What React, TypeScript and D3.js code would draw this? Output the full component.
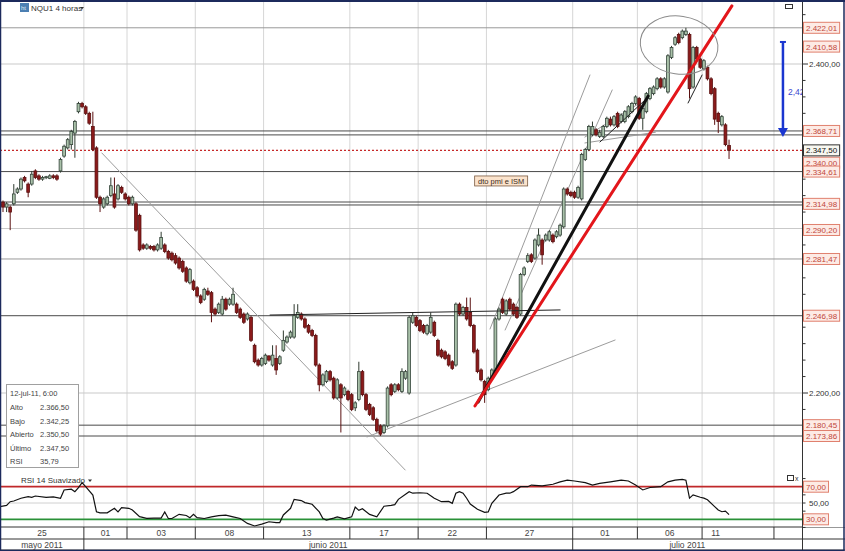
import React from "react";
import * as d3 from "d3";

// ---------- DATA ----------
// 4-hour candles NQU1: [open, high, low, close]
const candles: number[][] = [
  [2316,2317,2310,2313],[2313,2316,2310,2315],[2313,2314,2299,2310],[2315,2327,2314,2321],
  [2322,2325,2321,2324],[2324,2331,2323,2330],[2331,2332,2328,2329],[2327,2328,2319,2322],
  [2327,2335,2326,2333],[2335,2336,2330,2331],[2332,2333,2329,2330],[2330,2332,2329,2331],
  [2331,2332,2330,2331.5],[2330.5,2333,2330,2332],[2332,2333,2330,2331],[2332,2333,2329,2330],
  [2335,2343,2334,2342],[2344,2351,2343,2350],[2349,2355,2348,2354],[2351,2360,2348,2359],
  [2358,2366,2343,2365],[2371,2377,2370,2376],[2376,2377,2373,2374],[2374,2375,2369,2370],
  [2370,2371,2363,2364],[2362,2371,2347,2348],[2349,2350,2318,2319],[2319,2320,2310,2315],
  [2313,2319,2312,2318],[2315,2320,2314,2319],[2320,2331,2319,2326],[2321,2331,2312,2313],
  [2318,2327,2317,2326],[2325,2326,2321,2322],[2321,2322,2317,2318],[2319,2320,2314,2315],
  [2315,2320,2314,2319],[2315,2316,2298,2299],[2308,2309,2286,2287],[2290,2291,2287,2288],
  [2288,2291,2287,2290],[2289,2290,2287,2288],[2289,2290,2286,2287],[2287,2291,2286,2290],
  [2288,2298,2287,2294.5],[2290,2291,2285,2286],[2286,2287,2281,2282],[2285,2286,2280,2281],
  [2283.5,2285,2278,2279],[2282,2283,2275,2276],[2280,2281,2273,2274],[2276,2277,2267,2268],
  [2267,2276,2266,2275],[2268,2269,2262,2263],[2264,2265,2258,2259],[2259,2260,2254,2255],
  [2257,2264,2256,2263],[2262,2264,2259,2260],[2261,2262,2243,2249],[2251,2252,2247,2248],
  [2249,2255,2248,2254],[2248,2259,2247,2257],[2257,2258,2250,2251],[2254,2258,2253,2257],
  [2254,2264,2253,2260],[2254,2255,2248,2249],[2251,2252,2245,2246],[2248,2249,2242,2243],
  [2245,2249,2244,2248],[2246,2247,2231,2232],[2229,2230,2218,2219],[2220,2221,2216,2217],
  [2217,2222,2216,2221],[2218,2224,2217,2223],[2222.5,2223,2219,2220],[2217,2229,2216,2223],
  [2221,2229,2211,2214],[2218,2223,2217,2222],[2226,2238,2225,2232],[2231,2235,2230,2234],
  [2234,2238,2233,2237],[2234,2254,2233,2247],[2246,2254,2245,2249],[2248,2249,2244,2245],
  [2245,2246,2239,2240],[2241,2242,2236,2237],[2238,2239,2234,2235],[2235,2236,2216,2217],
  [2217,2218,2201,2205],[2205,2212,2204,2211],[2207,2214,2206,2213],[2213,2214,2207,2208],
  [2209,2210,2196,2197],[2197,2209,2196,2208],[2205,2206,2176,2197],[2199,2204,2198,2203],
  [2201,2202,2195,2196],[2199,2200,2189,2190],[2191,2195,2189,2194],[2196,2219,2195,2213],
  [2213,2214,2198,2199],[2199,2200,2189,2190],[2193,2194,2186,2187],[2191,2192,2183,2184],
  [2184,2185,2176,2177],[2180,2181,2173.86,2175],[2176,2181,2175,2180],[2180,2204,2179,2203],
  [2205,2206,2198,2199],[2201,2206,2200,2205],[2205,2206,2201,2202],[2201,2215,2200,2213],
  [2209,2214,2208,2213],[2200,2247,2199,2246],[2243,2249,2242,2247],[2246,2247,2240,2241],
  [2244,2245,2237,2238],[2241,2242,2236,2237],[2236,2242,2235,2241],[2237,2249,2236,2246],
  [2243,2244,2234,2235],[2232,2233,2222,2223],[2226,2227,2221,2222],[2225,2226,2220,2221],
  [2223,2224,2216,2217],[2219,2220,2214,2215],[2217,2255,2216,2254],[2254,2255,2247,2248],
  [2248,2253,2247,2252],[2252,2258,2244,2245],[2249,2258,2240,2241],[2241,2242,2224,2225],
  [2226,2227,2212,2213],[2214,2215,2207,2208],[2207,2208,2194,2199],[2202,2210,2201,2209],
  [2209,2215,2208,2214],[2213,2246,2212,2245],[2245,2252,2244,2251],[2257,2258,2248,2249],
  [2248,2257,2247,2256],[2257,2258,2250,2251],[2254,2255,2247,2248],[2252,2253,2245,2246],
  [2248,2273,2247,2272],[2272,2277,2271,2276],[2280,2285,2279,2283.5],[2284,2285,2279,2280],
  [2282,2294,2281,2293],[2290,2300,2289,2296],[2293,2294,2278,2284],[2293,2297,2292,2296],
  [2293,2299,2292,2298],[2296,2297,2291,2292],[2295,2299,2294,2298],[2296,2303,2295,2302],
  [2301,2325,2300,2324],[2324,2325,2320,2321],[2322,2323,2319,2320],[2322,2323,2318,2319],
  [2319,2326,2318,2325],[2318,2346,2317,2345],[2342,2349,2341,2348],[2348,2363,2347,2362],
  [2357,2365,2356,2362],[2360,2361,2356,2357],[2356,2360,2355,2358.5],[2356,2363,2355,2362],
  [2362,2368,2361,2367],[2366.5,2368,2362,2363],[2363,2369,2362,2368],[2370,2371,2361,2362],
  [2365,2370,2364,2369],[2365,2372,2364,2371],[2368,2375,2367,2374],[2371,2377,2370,2376],
  [2376,2381,2375,2380],[2379,2380,2366,2367],[2367,2374,2360,2373],[2371,2383,2370,2382],
  [2379,2386,2378,2385],[2382,2387,2381,2386],[2385,2392,2384,2391],[2391,2392,2385,2386],
  [2386,2392,2385,2391],[2383,2406,2382,2405],[2404,2411,2403,2410],[2412,2417,2411,2416],
  [2418,2419,2412,2413],[2416,2421,2415,2420],[2418,2422.01,2417,2420],[2418,2419,2379,2385],
  [2386,2411,2385,2410],[2410,2411,2402,2403],[2403,2404,2397,2398],[2397,2403,2396,2402],
  [2398,2399,2390,2391],[2391,2392,2381,2382],[2385,2386,2363,2366.5],[2370,2371,2358,2365],
  [2363,2369,2362,2368],[2363,2364,2350,2351],[2350.5,2354,2342.25,2347.5],
];

// RSI 14 smoothed, read at bar positions
const rsiBars = [-1,1,2,3,5,7,8,9,12,14,16,17,19,20,21,22,23,25,26,27,29,31,32,33,35,36,38,40,42,44,45,46,47,49,51,52,53,54,56,58,60,62,64,66,68,70,72,74,76,77,78,80,81,83,84,86,88,89,90,92,93,95,97,98,99,100,102,104,106,108,109,110,113,114,116,118,120,122,124,125,126,127,128,129,130,132,134,135,136,138,140,141,142,144,146,147,150,153,155,157,159,162,164,166,169,172,174,176,178,180,183,185,187,189,190,191,192,194,195,196,198,199,200,201,202];
const rsiValues = [45.5,47,51.6,52.5,55.8,57.7,57,58.6,57,57.5,55.8,66,67,63.9,68.8,75,70,59.8,39.3,38,38,43.5,39,44.3,43.5,41.4,33.2,31.2,31.5,31.5,39,31,31,36.1,34.7,32,36,32,31,33,34.5,35,33,31,25,21.8,24,27,26,26,35.3,43.5,54.5,53,50.5,48.5,39,31,29,31.5,33,30.5,33,45,41,43,36,33,46,47,48,54.5,63.9,62,62.6,62,55.8,51.6,52,49.6,62,63.9,62,55.8,48.8,42.3,38.6,39,49.6,59.8,62,62,63.9,70,70,72,71,73,76,78,77,75,72,74,76,78,77,72,66,69,70,76,78,79,78,56,60,57,56,54,45.5,41.4,39.3,40,35.79];

// horizontal levels
const gridPrices = [2400, 2300, 2200];
const axisPrices = [2400, 2200];
const axisPriceLabels = ["2.400,00", "2.200,00"];
const darkLevels = [2359.3, 2356.9, 2334.61, 2316.1, 2314.3, 2246.98, 2180.45, 2173.86];
const lightLevels = [2422.01, 2281.47];
const lastPrice = 2347.5;
const lastPriceLabel = "2.347,50";
const tagTexts = ["2.422,01","2.410,58","2.368,71","2.340,00","2.334,61","2.314,98","2.290,20","2.281,47","2.246,98","2.180,45","2.173,86"];
const tagPrices = [2422.01, 2410.58, 2359.3, 2340.0, 2334.61, 2314.98, 2299.1, 2281.47, 2246.98, 2180.45, 2173.86];

// RSI guides
const rsiGuides = [70, 30];
const rsiGuideLabels = ["70,00", "30,00"];
const rsiMid = 50;
const rsiMidLabel = "50,00";

// time axis (bar-index boundaries of each session label)
const dayBounds = [22.5, 34.5, 53.5, 72.5, 96.5, 115.5, 134.5, 158.5, 176.5, 194.5, 214.5];
const dayLabels = ["25", "01", "03", "08", "13", "17", "22", "27", "01", "06", "11"];
const monthBounds = [22.5, 158.5];
const monthLabels = ["mayo 2011", "junio 2011", "julio 2011"];

// drawn annotations: [barA, priceA, barB, priceB]
const thinGrayLines = [
  [27.5, 2345.9, 111.9, 2153.2],
  [101.3, 2173.3, 170.3, 2232.2],
  [135.5, 2238.9, 163.3, 2393.3],
  [139.7, 2238.3, 169.5, 2384.2],
  [161.9, 2355.6, 177.2, 2376.3],
  [161.9, 2352.0, 181.5, 2358.5],
];
const thinDarkLines = [
  [74.3, 2247.4, 155.0, 2250.5],
  [166.1, 2352.6, 179.2, 2379.3],
  [190.6, 2376.3, 194.5, 2393.3],
];
const thickBlackLine = [132.2, 2194.5, 179.5, 2380.5];
const thickRedLine = [131.3, 2192.1, 202.8, 2435.3];
const ellipseCenter = [188.1, 2411.5];
const ellipseRadii = [10.85, 17.6];
const arrowBar = 217;
const arrowPrices = [2413.4, 2355.6];
const arrowLabel = "2,42";
const noteText = "dto pmi e ISM";
const notePos = [138.6, 2328.9];

const infoDate = "12-jul-11, 6:00";
const infoLabels = ["Alto", "Bajo", "Abierto", "Último", "RSI"];
const infoValues = ["2.366,50", "2.342,25", "2.350,50", "2.347,50", "35,79"];

const FONT = "'Liberation Sans', Arial, sans-serif";

function textW(s: string, fs: number) {
  let w = 0;
  for (const ch of s) w += /[.,]/.test(ch) ? 0.278 : 0.556;
  return w * fs;
}

export default function App() {
  const W = 845, H = 551, PR = 802;
  const x = d3.scaleLinear().domain([-0.835, 222.3]).range([0, PR]);
  const y = d3.scaleLinear().domain([2200, 2400]).range([393, 64]);
  const yr = d3.scaleLinear().domain([30, 70]).range([519.3, 486.7]);
  const DAY_TOP = 527, MONTH_TOP = 539, BOTTOM = 550;
  const lastBar = candles.length - 1;

  const rsiLine = d3.line<number>().x((_, i) => x(rsiBars[i])).y((v) => yr(v));

  const priceTicks = d3.range(2180, 2431, 10);
  const rsiTicks = d3.range(20, 81, 10);

  const seg = (l: number[], key: string, stroke: string, sw: number) => (
    <line key={key} x1={x(l[0])} y1={y(l[1])} x2={x(l[2])} y2={y(l[3])} stroke={stroke} strokeWidth={sw} strokeLinecap="round" />
  );

  const tag = (text: string, yy: number, key: string, fill: string, stroke: string, color: string) => {
    const fs = 8;
    const w = textW(text, fs) + 5;
    return (
      <g key={key}>
        <rect x={803.5} y={yy - 5.5} width={w} height={11} fill={fill} stroke={stroke} strokeWidth={1} />
        <text x={806} y={yy + 3} fontSize={fs} fill={color} fontFamily={FONT}>{text}</text>
      </g>
    );
  };

  const dayStarts = [x.domain()[0], ...dayBounds.slice(0, dayLabels.length - 1)];
  const monthStarts = [x.domain()[0], ...monthBounds];
  const monthEnds = [...monthBounds, x.domain()[1]];

  const [ex, ey] = [x(ellipseCenter[0]), y(ellipseCenter[1])];
  const erx = x(ellipseCenter[0] + ellipseRadii[0]) - ex;
  const ery = ey - y(ellipseCenter[1] + ellipseRadii[1]);

  const ax = x(arrowBar);
  const ay1 = y(arrowPrices[0]);
  const ay2 = y(arrowPrices[1]);

  return (
    <svg width={W} height={H} style={{ position: "absolute", left: 0, top: 0, background: "#fff" }} fontFamily={FONT}>
      <rect x={0} y={0} width={W} height={H} fill="#fff" />
      {/* vertical session grid */}
      {dayBounds.map((b, i) => (
        <line key={"vg" + i} x1={x(b)} x2={x(b)} y1={2} y2={DAY_TOP} stroke="#d6d6d6" strokeWidth={1} />
      ))}
      {/* price grid */}
      {gridPrices.map((p, i) => (
        <line key={"hg" + i} x1={0} x2={PR} y1={y(p)} y2={y(p)} stroke="#c9c9c9" strokeWidth={1} />
      ))}
      {lightLevels.map((p, i) => (
        <line key={"ll" + i} x1={0} x2={PR} y1={y(p)} y2={y(p)} stroke="#9a9a9a" strokeWidth={1} />
      ))}
      {darkLevels.map((p, i) => (
        <line key={"dl" + i} x1={0} x2={PR} y1={y(p)} y2={y(p)} stroke="#4a4a4a" strokeWidth={1} />
      ))}
      <line x1={0} x2={PR} y1={y(lastPrice)} y2={y(lastPrice)} stroke="#c62828" strokeWidth={1.3} strokeDasharray="2,2" />

      {/* thin annotation lines */}
      {thinGrayLines.map((l, i) => seg(l, "tg" + i, "#9c9c9c", 1))}

      {/* candles */}
      {candles.map((d, i) => {
        const [o, h, l, c] = d;
        const up = c >= o;
        const cx = x(i);
        const top = y(Math.max(o, c));
        const bh = Math.max(1, y(Math.min(o, c)) - top);
        return (
          <g key={"c" + i}>
            <line x1={cx} x2={cx} y1={y(h)} y2={y(l)} stroke={up ? "#2f3a2f" : "#5a1010"} strokeWidth={1} />
            <rect x={cx - 1.4} y={top} width={2.8} height={bh} fill={up ? "#a9c1a9" : "#8b1a1a"} stroke={up ? "#34443a" : "#5a1010"} strokeWidth={0.8} />
          </g>
        );
      })}

      {thinDarkLines.map((l, i) => seg(l, "td" + i, "#222", 1))}
      {seg(thickBlackLine, "tb", "#111", 3)}
      {seg(thickRedLine, "tr", "#e3161b", 3)}
      <ellipse cx={ex} cy={ey} rx={erx} ry={ery} fill="none" stroke="#8a8a8a" strokeWidth={1} transform={`rotate(8 ${ex} ${ey})`} />

      {/* note */}
      <g>
        <rect x={x(notePos[0]) - 26.5} y={y(notePos[1]) - 5} width={53} height={10} fill="#fbe3cc" stroke="#7a5a40" strokeWidth={0.8} />
        <text x={x(notePos[0])} y={y(notePos[1]) + 3} fontSize={7.5} textAnchor="middle" fill="#3a2a1a">{noteText}</text>
      </g>

      {/* blue arrow */}
      <line x1={ax} x2={ax} y1={ay1} y2={ay2 - 7} stroke="#1a36d0" strokeWidth={2.5} />
      <line x1={ax - 3} x2={ax + 3} y1={ay1} y2={ay1} stroke="#1a36d0" strokeWidth={2} />
      <path d={`M${ax - 5},${ay2 - 9} L${ax + 5},${ay2 - 9} L${ax},${ay2} Z`} fill="#1a36d0" />
      <text x={ax + 5} y={(ay1 + ay2) / 2 + 6} fontSize={8.5} fill="#3a48d0">{arrowLabel}</text>

      {/* RSI panel */}
      <line x1={0} x2={PR} y1={yr(rsiMid)} y2={yr(rsiMid)} stroke="#d0d0d0" strokeWidth={1} />
      <line x1={0} x2={PR} y1={yr(rsiGuides[0])} y2={yr(rsiGuides[0])} stroke="#c0282a" strokeWidth={1.8} />
      <line x1={0} x2={PR} y1={yr(rsiGuides[1])} y2={yr(rsiGuides[1])} stroke="#2a9138" strokeWidth={1.8} />
      <path d={rsiLine(rsiValues) || ""} fill="none" stroke="#111" strokeWidth={1.2} />
      <text x={21} y={483} fontSize={8} fill="#333">RSI 14 Suavizado</text>
      <path d="M88,479.5 L92,479.5 L90,482 Z" fill="#333" />
      <rect x={787.5} y={475.5} width={6} height={5} fill="none" stroke="#333" strokeWidth={1} />
      <text x={795} y={481} fontSize={7} fill="#333">x</text>

      {/* info box */}
      <g>
        <rect x={6.5} y={384.5} width={72} height={83} fill="#fff" stroke="#a0a0a0" strokeWidth={1} />
        <text x={10} y={396} fontSize={7.5} fill="#444">{infoDate}</text>
        {infoLabels.map((lb, i) => (
          <g key={"ib" + i}>
            <text x={10} y={410 + i * 13.5} fontSize={7.5} fill="#444">{lb}</text>
            <text x={40} y={410 + i * 13.5} fontSize={7.5} fill="#444">{infoValues[i]}</text>
          </g>
        ))}
      </g>

      {/* title */}
      <rect x={20} y={3} width={9} height={9} fill="#4c7fb2" />
      <text x={21} y={10} fontSize={6} fill="#dfe8f0">ht</text>
      <text x={31} y={11} fontSize={8} fill="#333">NQU1 4 horas</text>
      <path d="M80,7 L84,7 L82,9.5 Z" fill="#333" />
      <rect x={785.5} y={4.5} width={7} height={4} fill="none" stroke="#333" strokeWidth={1} />

      {/* time axis */}
      <line x1={0} x2={W} y1={DAY_TOP} y2={DAY_TOP} stroke="#333" strokeWidth={1} />
      <line x1={0} x2={W} y1={MONTH_TOP} y2={MONTH_TOP} stroke="#333" strokeWidth={1} />
      <line x1={0} x2={W} y1={BOTTOM} y2={BOTTOM} stroke="#333" strokeWidth={1} />
      {dayBounds.map((b, i) => (
        <line key={"ds" + i} x1={x(b)} x2={x(b)} y1={DAY_TOP} y2={MONTH_TOP} stroke="#333" strokeWidth={1} />
      ))}
      {dayLabels.map((lb, i) => {
        const a = dayStarts[i];
        const b = Math.min(dayBounds[i], lastBar);
        return (
          <text key={"dlb" + i} x={(x(a) + x(b)) / 2} y={536} fontSize={8.5} textAnchor="middle" fill="#444">{lb}</text>
        );
      })}
      {monthBounds.map((b, i) => (
        <line key={"ms" + i} x1={x(b)} x2={x(b)} y1={MONTH_TOP} y2={BOTTOM} stroke="#333" strokeWidth={1} />
      ))}
      {monthLabels.map((lb, i) => (
        <text key={"mlb" + i} x={(x(monthStarts[i]) + x(monthEnds[i])) / 2} y={548} fontSize={8.5} textAnchor="middle" fill="#444">{lb}</text>
      ))}

      {/* right axis */}
      <rect x={PR + 0.5} y={0} width={W - PR} height={DAY_TOP} fill="#fff" />
      <line x1={PR + 0.5} x2={PR + 0.5} y1={0} y2={H} stroke="#333" strokeWidth={1} />
      {priceTicks.map((p) => (
        <line key={"pt" + p} x1={PR} x2={PR + (p % 100 === 0 ? 6 : 3.5)} y1={y(p)} y2={y(p)} stroke="#333" strokeWidth={1} />
      ))}
      {rsiTicks.map((v) => (
        <line key={"rt" + v} x1={PR} x2={PR + 3.5} y1={yr(v)} y2={yr(v)} stroke="#333" strokeWidth={1} />
      ))}
      {axisPrices.map((p, i) => (
        <text key={"apl" + i} x={809} y={y(p) + 3} fontSize={8} fill="#333">{axisPriceLabels[i]}</text>
      ))}
      {tagTexts.map((t, i) => tag(t, y(tagPrices[i]), "tag" + i, "#fdebe5", "#e0806e", "#c0463a"))}
      {tag(lastPriceLabel, y(lastPrice), "lastTag", "#f7f7f0", "#333", "#111")}
      {rsiGuides.map((v, i) => tag(rsiGuideLabels[i], yr(v), "rg" + i, "#fdebe5", "#e0806e", "#c0463a"))}
      <text x={809} y={yr(rsiMid) + 3} fontSize={8} fill="#333">{rsiMidLabel}</text>

      {/* frame */}
      <rect x={0.5} y={1} width={W - 1.5} height={H - 1.5} fill="none" stroke="#1c2a5c" strokeWidth={1.5} />
      <line x1={0} x2={W} y1={1} y2={1} stroke="#1c2a5c" strokeWidth={2} />
    </svg>
  );
}
